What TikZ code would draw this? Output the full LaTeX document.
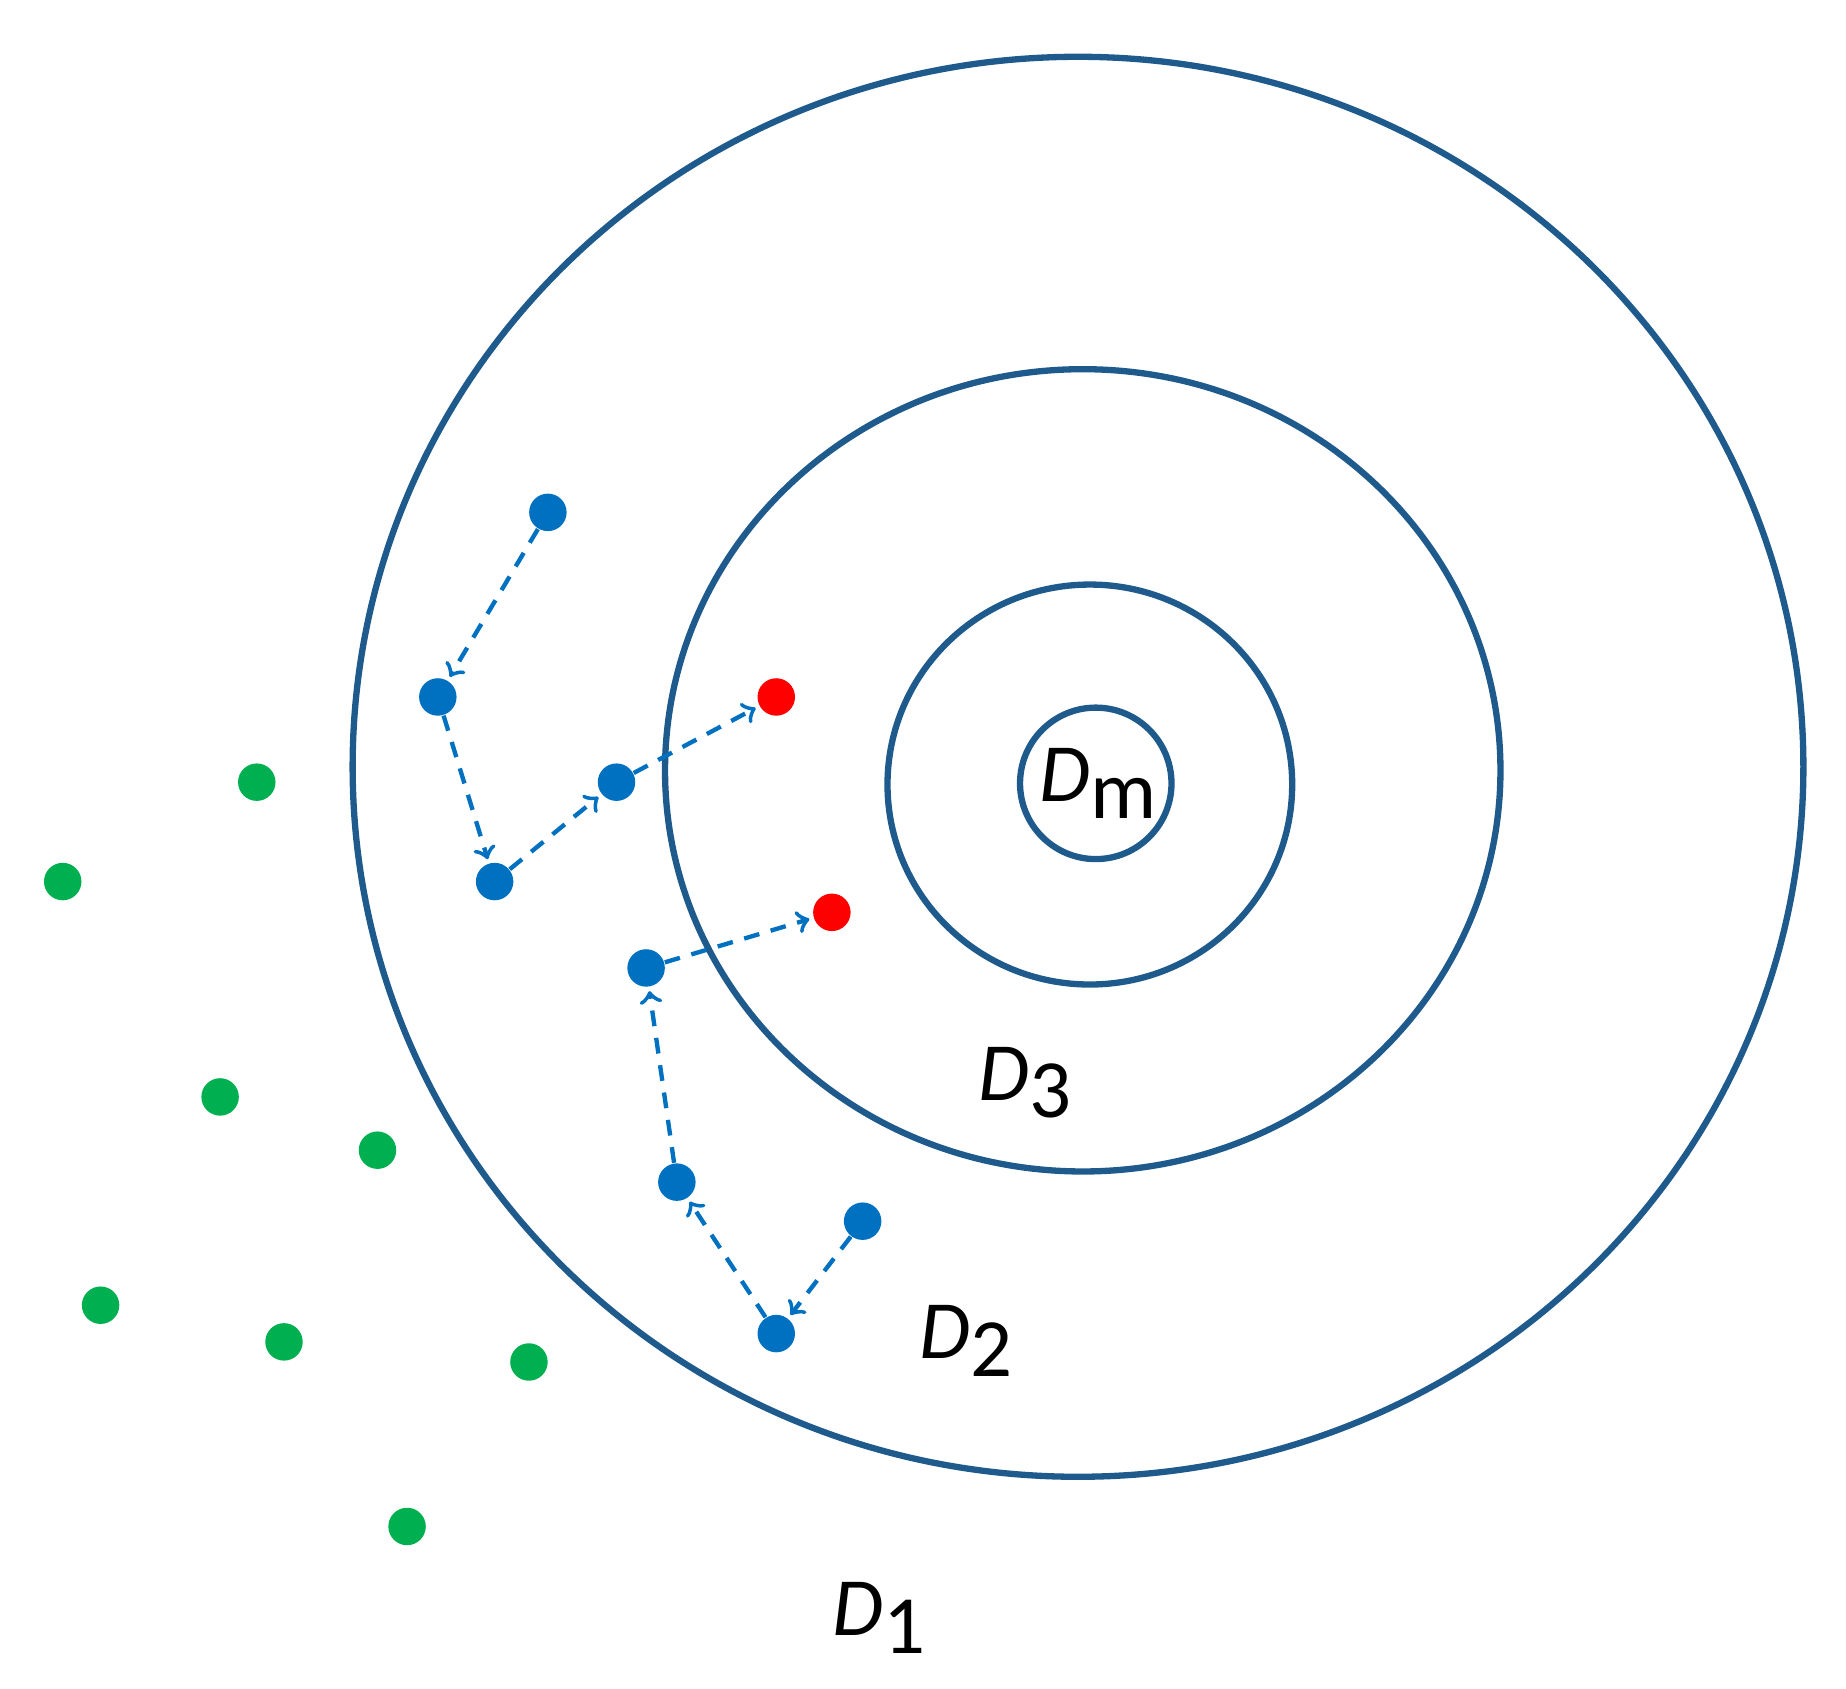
\documentclass[tikz,border=0pt]{standalone}
\usepackage{fontspec}
\setmainfont{Carlito}
\usetikzlibrary{arrows}
\definecolor{ring}{HTML}{1F5A8C}
\definecolor{walk}{HTML}{0070C0}
\definecolor{far}{HTML}{00B050}
\newcommand{\lbl}[2]{\textit{D}\raisebox{-0.45ex}{#2}}
\begin{document}
\begin{tikzpicture}[x=0.3pt,y=-0.3pt,
    ring/.style={draw=ring,line width=1.6pt},
    dot/.style={circle,fill=walk,inner sep=0pt,minimum size=9.5pt},
    goal/.style={dot,fill=red},
    stray/.style={dot,fill=far},
    hop/.style={->,>=to,draw=walk,line width=1.1pt,dash pattern=on 4pt off 3pt,shorten >=1pt},
    tag/.style={font=\fontsize{21}{24}\selectfont}]

        \useasboundingbox (0,0) rectangle (1560,1427);

        % domains
        \draw[ring] (911,648) ellipse [x radius=613,y radius=600];
        \draw[ring] (915,651) ellipse [x radius=353,y radius=339];
        \draw[ring] (921,663) ellipse [x radius=171,y radius=169];
        \draw[ring] (926,662) circle [radius=64];

        \node[tag] (Dm) at (928,662) {\lbl{D}{m}};
        \node[tag] (D3) at (866,915) {\lbl{D}{3}};
        \node[tag] (D2) at (816,1133) {\lbl{D}{2}};
        \node[tag] (D1) at (743,1367) {\lbl{D}{1}};

        % walkers
        \node[dot]  (W01) at (463,433)  {};
        \node[dot]  (W02) at (370,589)  {};
        \node[dot]  (W03) at (418,745)  {};
        \node[dot]  (W04) at (521,661)  {};
        \node[goal] (R01) at (656,589)  {};
        \node[dot]  (W05) at (729,1032) {};
        \node[dot]  (W06) at (656,1127) {};
        \node[dot]  (W07) at (572,999)  {};
        \node[dot]  (W08) at (546,818)  {};
        \node[goal] (R02) at (703,771)  {};

        \path[hop]
                  (W01) edge (W02)
                  (W02) edge (W03)
                  (W03) edge (W04)
                  (W04) edge (R01)
                  (W05) edge (W06)
                  (W06) edge (W07)
                  (W07) edge (W08)
                  (W08) edge (R02);

        % outside points
        \foreach \x/\y [count=\i] in {217/661,53/745,186/927,319/972,85/1103,240/1134,447/1151,344/1290}
                \node[stray] (G\i) at (\x,\y) {};
\end{tikzpicture}
\end{document}
